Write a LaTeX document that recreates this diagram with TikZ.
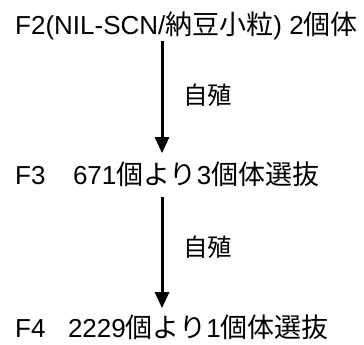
\documentclass[tikz,border=0pt]{standalone}
\usepackage{fontspec}
\setmainfont{Liberation Sans}
\newfontfamily\jp{Noto Sans CJK JP}
\usetikzlibrary{arrows.meta}
\newcommand{\jpt}[1]{{\jp\fontsize{27}{30}\selectfont #1}}
\begin{document}
\begin{tikzpicture}[x=1pt,y=-1pt,
  lbl/.style={inner sep=0pt, anchor=base west, font=\fontsize{26}{29}\selectfont},
  jlbl/.style={inner sep=0pt, anchor=base west, font=\fontsize{24.5}{27}\selectfont\jp},
  flow/.style={line width=3pt, -{Triangle[length=16pt,width=14pt]}}]
\useasboundingbox[fill=white] (0,0) rectangle (364,345);
\coordinate (ax) at (162,0);
\node[lbl] (n1) at (15,35) {F2(NIL-SCN/\jpt{納豆小粒}) 2\jpt{個体}};
\node[lbl] (n2) at (15,184) {F3\hspace*{27.5pt}671\jpt{個より}3\jpt{個体選抜}};
\node[lbl] (n3) at (15,337) {F4\hspace*{22.5pt}2229\jpt{個より}1\jpt{個体選抜}};
\node[jlbl] (s1) at (183,104) {自殖};
\node[jlbl] (s2) at (183,256) {自殖};
\draw[flow] (n1.south -| ax) -- ([yshift=8pt]n2.north -| ax);
\draw[flow] ([yshift=-11pt]n2.south -| ax) -- ([yshift=6pt]n3.north -| ax);
\end{tikzpicture}
\end{document}
